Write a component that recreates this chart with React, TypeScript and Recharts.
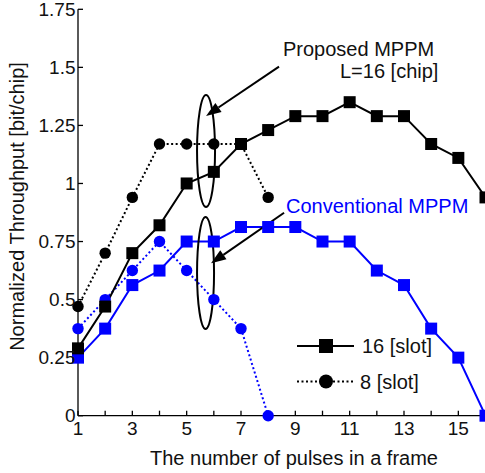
import { Legend, Line, LineChart, ReferenceDot, ReferenceLine, XAxis, YAxis } from "recharts";

const pulses = [1, 2, 3, 4, 5, 6, 7, 8, 9, 10, 11, 12, 13, 14, 15, 16];
const proposed16 = [0.29, 0.47, 0.7, 0.82, 1.0, 1.05, 1.17, 1.23, 1.29, 1.29, 1.35, 1.29, 1.29, 1.17, 1.11, 0.94];
const proposed8 = [0.47, 0.7, 0.94, 1.17, 1.17, 1.17, 1.17, 0.94];
const conventional16 = [0.25, 0.375, 0.5625, 0.625, 0.75, 0.75, 0.8125, 0.8125, 0.8125, 0.75, 0.75, 0.625, 0.5625, 0.375, 0.25, 0];
const conventional8 = [0.375, 0.5, 0.625, 0.75, 0.625, 0.5, 0.375, 0];
const yTicks = [0, 0.25, 0.5, 0.75, 1, 1.25, 1.5, 1.75];

const data = pulses.map((n, i) => ({
  n,
  p16: proposed16[i],
  p8: proposed8[i],
  c16: conventional16[i],
  c8: conventional8[i],
}));

const BLUE = "#0000ff";
const FONT = "'Liberation Sans', Arial, Helvetica, sans-serif";

const square = (color: string) => (props: any) => {
  const { cx, cy, index } = props;
  if (cx == null || cy == null) return <g key={index} />;
  return <rect key={index} x={cx - 6} y={cy - 6} width={12} height={12} fill={color} />;
};

const ellipse = (rx: number, ry: number) => (props: any) => (
  <ellipse cx={props.cx} cy={props.cy} rx={rx} ry={ry} fill="none" stroke="#000" strokeWidth={2} />
);

const arrow = (props: any) => {
  const { x1, y1, x2, y2 } = props;
  const ang = Math.atan2(y2 - y1, x2 - x1);
  const len = 15;
  const half = 5.5;
  const bx = x2 - len * Math.cos(ang);
  const by = y2 - len * Math.sin(ang);
  const px = -Math.sin(ang) * half;
  const py = Math.cos(ang) * half;
  return (
    <g>
      <line x1={x1} y1={y1} x2={bx} y2={by} stroke="#000" strokeWidth={2} />
      <polygon points={`${x2},${y2} ${bx + px},${by + py} ${bx - px},${by - py}`} fill="#000" />
    </g>
  );
};

function LegendBox() {
  return (
    <svg width={160} height={70} style={{ overflow: "visible" }}>
      <line x1={7} y1={21} x2={64} y2={21} stroke="#000" strokeWidth={2} />
      <rect x={29} y={14} width={14} height={14} fill="#000" />
      <text x={72} y={28} fontSize={20} fontFamily={FONT} fill="#111">16 [slot]</text>
      <line x1={7} y1={56.5} x2={64} y2={56.5} stroke="#000" strokeWidth={2} strokeDasharray="2 2.5" />
      <circle cx={36} cy={56.5} r={7} fill="#000" />
      <text x={70} y={63.5} fontSize={20} fontFamily={FONT} fill="#111">8 [slot]</text>
    </svg>
  );
}

export default function App() {
  const tickStyle = { fontSize: 19, fontFamily: FONT, fill: "#111" };
  return (
    <div style={{ position: "fixed", left: 0, top: 0, width: 485, height: 473, overflow: "hidden", background: "#fff" }}>
      <LineChart width={490} height={473} data={data} margin={{ top: 9.3, right: 4.5, bottom: 0, left: 0 }}>
        <XAxis
          dataKey="n"
          type="number"
          domain={[1, 16]}
          ticks={pulses}
          tickFormatter={(v: number) => (v % 2 === 1 ? String(v) : "")}
          tickSize={-5}
          tickMargin={11.3}
          height={57.3}
          stroke="#000"
          strokeWidth={1.3}
          tick={tickStyle}
          interval={0}
        />
        <XAxis
          xAxisId="t"
          dataKey="n"
          type="number"
          orientation="top"
          domain={[1, 16]}
          ticks={pulses}
          tickFormatter={() => ""}
          tickSize={-5}
          height={0}
          stroke="#000"
          strokeWidth={1.3}
          interval={0}
        />
        <YAxis
          type="number"
          domain={[0, 1.75]}
          ticks={yTicks}
          tickFormatter={(v: number) => String(v)}
          tickSize={-5}
          tickMargin={7.5}
          width={78}
          stroke="#000"
          strokeWidth={1.3}
          tick={tickStyle}
          interval={0}
        />
        <YAxis
          yAxisId="r"
          type="number"
          orientation="right"
          domain={[0, 1.75]}
          ticks={yTicks}
          tickFormatter={() => ""}
          tickSize={-5}
          width={0}
          stroke="#000"
          strokeWidth={1.3}
          interval={0}
        />
        <Legend
          layout="vertical"
          align="center"
          verticalAlign="middle"
          content={() => <LegendBox />}
          wrapperStyle={{ position: "absolute", left: 290, top: 325, width: 160, height: 70 }}
        />
        <Line dataKey="c8" stroke={BLUE} strokeWidth={2} strokeDasharray="2 2.5" dot={{ r: 5.7, fill: BLUE, stroke: "none" }} isAnimationActive={false} legendType="none" />
        <Line dataKey="c16" stroke={BLUE} strokeWidth={2} dot={square(BLUE)} isAnimationActive={false} legendType="none" />
        <Line dataKey="p8" stroke="#000" strokeWidth={2} strokeDasharray="2 2.5" dot={{ r: 5.7, fill: "#000", stroke: "none" }} isAnimationActive={false} legendType="none" />
        <Line dataKey="p16" stroke="#000" strokeWidth={2} dot={square("#000")} isAnimationActive={false} legendType="none" />
        <ReferenceDot x={5.713} y={1.14} r={1} shape={ellipse(9, 56)} ifOverflow="visible" />
        <ReferenceDot x={5.695} y={0.615} r={1} shape={ellipse(8.5, 56)} ifOverflow="visible" />
        <ReferenceLine segment={[{ x: 8.4, y: 1.503 }, { x: 5.713, y: 1.291 }]} shape={arrow} ifOverflow="visible" />
        <ReferenceLine segment={[{ x: 8.585, y: 0.874 }, { x: 5.897, y: 0.656 }]} shape={arrow} ifOverflow="visible" />
      </LineChart>
      <svg width={485} height={473} style={{ position: "absolute", left: 0, top: 0, pointerEvents: "none" }}>
        <text x={283} y={56} fontSize={20} fontFamily={FONT} fill="#111">Proposed MPPM</text>
        <text x={340} y={77.7} fontSize={20} fontFamily={FONT} fill="#111">L=16 [chip]</text>
        <text x={286} y={212.7} fontSize={20} fontFamily={FONT} fill={BLUE}>Conventional MPPM</text>
        <text x={294} y={465} fontSize={20} fontFamily={FONT} fill="#111" textAnchor="middle">The number of pulses in a frame</text>
        <text x={24} y={206.5} fontSize={20} fontFamily={FONT} fill="#111" textAnchor="middle" transform="rotate(-90 24 206.5)">
          Normalized Throughput [bit/chip]
        </text>
      </svg>
    </div>
  );
}
